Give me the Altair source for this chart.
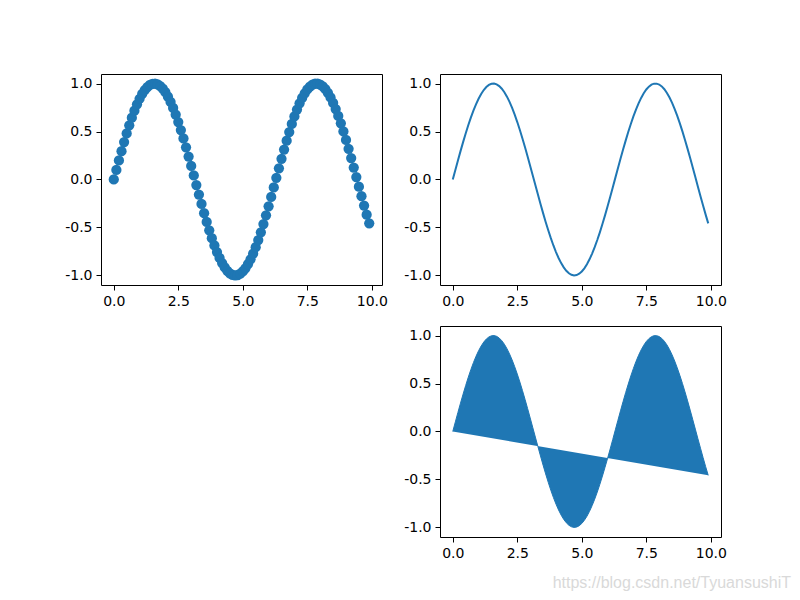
import altair as alt
import pandas as pd

x_vals = [0.0, 0.1, 0.2, 0.3, 0.4, 0.5, 0.6, 0.7, 0.8, 0.9,
          1.0, 1.1, 1.2, 1.3, 1.4, 1.5, 1.6, 1.7, 1.8, 1.9,
          2.0, 2.1, 2.2, 2.3, 2.4, 2.5, 2.6, 2.7, 2.8, 2.9,
          3.0, 3.1, 3.2, 3.3, 3.4, 3.5, 3.6, 3.7, 3.8, 3.9,
          4.0, 4.1, 4.2, 4.3, 4.4, 4.5, 4.6, 4.7, 4.8, 4.9,
          5.0, 5.1, 5.2, 5.3, 5.4, 5.5, 5.6, 5.7, 5.8, 5.9,
          6.0, 6.1, 6.2, 6.3, 6.4, 6.5, 6.6, 6.7, 6.8, 6.9,
          7.0, 7.1, 7.2, 7.3, 7.4, 7.5, 7.6, 7.7, 7.8, 7.9,
          8.0, 8.1, 8.2, 8.3, 8.4, 8.5, 8.6, 8.7, 8.8, 8.9,
          9.0, 9.1, 9.2, 9.3, 9.4, 9.5, 9.6, 9.7, 9.8, 9.9]

y_vals = [0.0, 0.0998, 0.1987, 0.2955, 0.3894, 0.4794, 0.5646, 0.6442, 0.7174, 0.7833,
          0.8415, 0.8912, 0.9320, 0.9636, 0.9854, 0.9975, 0.9996, 0.9917, 0.9738, 0.9463,
          0.9093, 0.8632, 0.8085, 0.7457, 0.6755, 0.5985, 0.5155, 0.4274, 0.3350, 0.2392,
          0.1411, 0.0416, -0.0584, -0.1577, -0.2555, -0.3508, -0.4425, -0.5298, -0.6119, -0.6878,
          -0.7568, -0.8183, -0.8716, -0.9162, -0.9516, -0.9775, -0.9937, -0.9999, -0.9962, -0.9825,
          -0.9589, -0.9258, -0.8835, -0.8323, -0.7728, -0.7055, -0.6313, -0.5507, -0.4646, -0.3739,
          -0.2794, -0.1822, -0.0831, 0.0168, 0.1165, 0.2151, 0.3115, 0.4048, 0.4941, 0.5784,
          0.6570, 0.7290, 0.7937, 0.8504, 0.8987, 0.9380, 0.9679, 0.9882, 0.9985, 0.9989,
          0.9894, 0.9699, 0.9407, 0.9022, 0.8546, 0.7985, 0.7344, 0.6630, 0.5849, 0.5010,
          0.4121, 0.3191, 0.2229, 0.1245, 0.0248, -0.0752, -0.1743, -0.2718, -0.3665, -0.4575]

x_ticks = [0.0, 2.5, 5.0, 7.5, 10.0]
y_ticks = [-1.0, -0.5, 0.0, 0.5, 1.0]
watermark = "https://blog.csdn.net/TyuansushiT"

df = pd.DataFrame({"x": x_vals, "y": y_vals, "i": list(range(len(x_vals)))})

BLUE = "#1f77b4"
W, H = 281, 211
FONT = "DejaVu Sans"

label_expr = "datum.value < 0 ? '-' + format(-datum.value, '.1f') : format(datum.value, '.1f')"

x_axis = alt.Axis(values=x_ticks, format=".1f", grid=False, domain=False,
                  tickColor="black", tickSize=5, tickWidth=1, labelPadding=4,
                  labelFont=FONT, labelFontSize=14, labelColor="black", title=None)
y_axis = alt.Axis(values=y_ticks, labelExpr=label_expr, grid=False, domain=False,
                  tickColor="black", tickSize=5, tickWidth=1, labelPadding=4,
                  labelFont=FONT, labelFontSize=14, labelColor="black", title=None)

xs = alt.Scale(domain=[-0.495, 10.395], nice=False, zero=False)
ys = alt.Scale(domain=[-1.0999, 1.0995], nice=False, zero=False)

X = alt.X("x:Q", scale=xs, axis=x_axis)
Y = alt.Y("y:Q", scale=ys, axis=y_axis)

frame = alt.ViewBackground(stroke="black", strokeWidth=1)

scatter = alt.Chart(df).mark_circle(color=BLUE, opacity=1, size=105).encode(
    x=X, y=Y
).properties(width=W, height=H, view=frame)

line = alt.Chart(df).mark_line(color=BLUE, strokeWidth=2).encode(
    x=X, y=Y, order="i:Q"
).properties(width=W, height=H, view=frame)

blank = alt.Chart(df).mark_point(opacity=0).encode(
    x=alt.X("x:Q", scale=xs, axis=None),
    y=alt.Y("y:Q", scale=ys, axis=None),
).properties(width=W, height=H, view=alt.ViewBackground(strokeOpacity=0))

filled = alt.Chart(df).mark_line(stroke=BLUE, fill=BLUE, strokeWidth=1).encode(
    x=X, y=Y, order="i:Q"
)
wm = alt.Chart(pd.DataFrame({"t": [watermark]})).mark_text(
    align="right", baseline="alphabetic", font="Liberation Sans", fontSize=16,
    color="#d9d9d9"
).encode(x=alt.value(351), y=alt.value(262), text="t:N")

fill_panel = alt.layer(filled, wm).properties(width=W, height=H, view=frame)

chart = alt.concat(scatter, line, blank, fill_panel, columns=2).properties(
    bounds="flush",
    spacing={"row": 41, "column": 58},
    padding={"left": 56, "top": 65, "right": 0, "bottom": 0},
).configure_view(stroke=None)

chart.save("out.html", embed_options={"renderer": "svg", "actions": False})
